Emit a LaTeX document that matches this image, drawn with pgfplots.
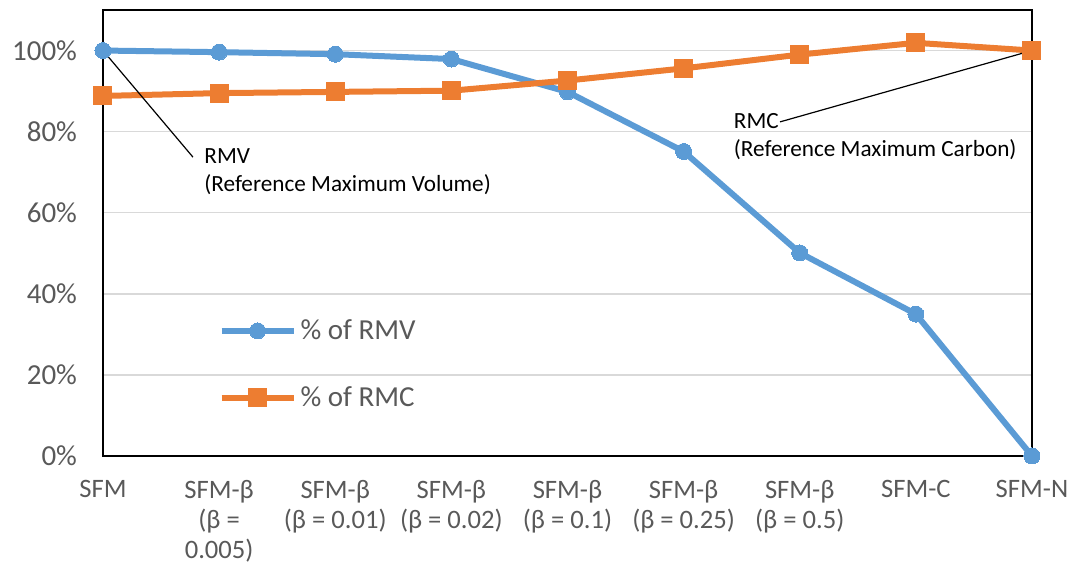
\documentclass[border=0pt]{standalone}
\usepackage{fontspec}
\setmainfont{Carlito}
\usepackage{pgfplots}
\pgfplotsset{compat=1.18}
\definecolor{cblue}{HTML}{5B9BD5}
\definecolor{corange}{HTML}{ED7D31}
\definecolor{textgray}{HTML}{595959}
\definecolor{gridgray}{HTML}{D9D9D9}
\begin{document}
\begin{tikzpicture}
\useasboundingbox (-51.5pt,-58pt) rectangle (484pt,228pt);
\begin{axis}[
  at={(0,0)}, anchor=south west,
  scale only axis, width=464.5pt, height=223pt,
  xmin=0, xmax=8, ymin=0, ymax=110,
  xtick={0,...,8},
  xticklabels={SFM,{SFM-β\\(β =\\0.005)},{SFM-β\\(β = 0.01)},{SFM-β\\(β = 0.02)},{SFM-β\\(β = 0.1)},{SFM-β\\(β = 0.25)},{SFM-β\\(β = 0.5)},SFM-C,SFM-N},
  ytick={0,20,...,100},
  yticklabels={0\%,20\%,40\%,60\%,80\%,100\%},
  ymajorgrids, grid style={draw=gridgray, line width=0.7pt},
  axis line style={black, line width=1pt},
  major tick length=0pt,
  yticklabel style={font=\fontsize{14.5}{16}\selectfont, text=textgray, xshift=-9.5pt},
  xticklabel style={font=\fontsize{13.3}{15}\selectfont, text=textgray, align=center, anchor=north, yshift=-8.5pt},
  legend style={at={(0.124,0.316)}, anchor=north west, draw=none, fill=none,
    font=\fontsize{14.5}{16}\selectfont, text=textgray, row sep=18pt, inner sep=0pt,
    /tikz/every even column/.append style={column sep=0pt}},
  legend cell align=left,
  legend image code/.code={\draw[#1,mark repeat=2,mark phase=2] plot coordinates {(0pt,0pt)(18pt,0pt)(36pt,0pt)};},
  clip=false,
]
\addplot[cblue, line width=3pt, mark=*, mark size=4pt, mark options={solid, fill=cblue, draw=cblue, line width=0pt}]
 coordinates {(0,100) (1,99.6) (2,99.1) (3,97.9) (4,89.8) (5,75.1) (6,50.1) (7,35.0) (8,0)};
\addlegendentry{\% of RMV}
\addplot[corange, line width=3pt, mark=square*, mark size=4.5pt, mark options={solid, fill=corange, draw=corange, line width=0pt}]
 coordinates {(0,88.8) (1,89.5) (2,89.8) (3,90.1) (4,92.6) (5,95.6) (6,99.0) (7,101.9) (8,100)};
\addlegendentry{\% of RMC}
\draw[black, line width=0.6pt] (axis cs:0,100) -- (axis cs:0.775,73.7);
\node[anchor=north west, align=left, font=\fontsize{11.6}{14}\selectfont, inner sep=0pt] at (axis cs:0.87,75.8) {RMV\\(Reference Maximum Volume)};
\draw[black, line width=0.6pt] (axis cs:8,100) -- (axis cs:5.83,82.4);
\node[anchor=north west, align=left, font=\fontsize{11.6}{14}\selectfont, inner sep=0pt] at (axis cs:5.43,84.6) {RMC\\(Reference Maximum Carbon)};
\end{axis}
\end{tikzpicture}
\end{document}
